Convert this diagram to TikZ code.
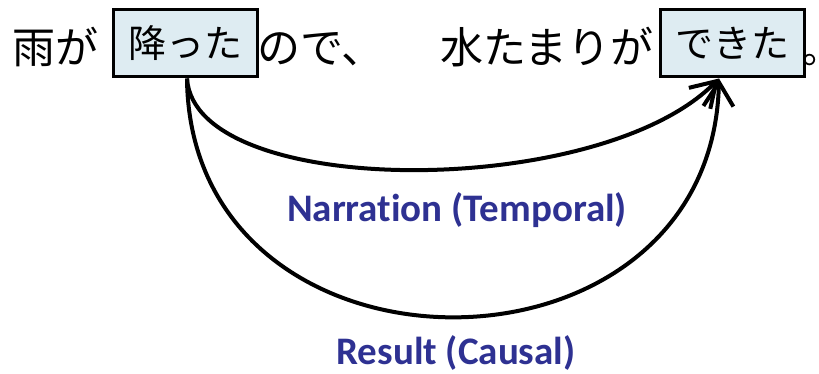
\documentclass[tikz,border=0pt]{standalone}
\usepackage{fontspec}
\setmainfont[Ligatures=NoCommon]{Carlito}
\newfontfamily\jp{Noto Sans CJK JP}
\usetikzlibrary{arrows.meta}
\definecolor{boxfill}{RGB}{222,236,242}
\definecolor{lblblue}{RGB}{46,49,146}
\tikzset{
  jtext/.style={font=\jp\fontsize{43}{43}\selectfont, inner sep=0pt, anchor=base west},
  wordbox/.style={draw=black, line width=3pt, fill=boxfill, minimum width=144pt, minimum height=67pt, inner sep=0pt, font=\jp\fontsize{38}{38}\selectfont},
  lbl/.style={font=\bfseries\fontsize{39}{39}\selectfont, text=lblblue, inner sep=0pt, anchor=base},
  link/.style={line width=4pt, -{Straight Barb[length=24pt,width=30pt]}}
}
\begin{document}
\begin{tikzpicture}[x=1pt,y=-1pt]
\useasboundingbox (0,0) rectangle (819,374);
\node[wordbox] (b1) at (185,43.5) {\raisebox{-2pt}{降った}};
\node[wordbox] (b2) at (732,43.5) {\raisebox{-2pt}{できた}};
\node[jtext] (t1) at (12,64) {雨が};
\node[jtext] (t2) at (257,64) {ので、};
\node[jtext] (t3) at (440,64) {水たまりが};
\node[jtext, font=\jp\fontsize{38}{38}\selectfont] (t4) at (802,64) {\makebox[0.4em][l]{。}};
\coordinate (s) at ([xshift=2pt]b1.south);
\coordinate (e) at ([xshift=-13pt]b2.south);
\draw[link] (s) .. controls (195,200) and (600,200) .. (e);
\draw[link] (s) .. controls (190,396) and (712,396) .. (e);
\node[lbl] (n1) at (457,222) {Narration (Temporal)};
\node[lbl] (n2) at (456,364) {Result (Causal)};
\end{tikzpicture}
\end{document}
